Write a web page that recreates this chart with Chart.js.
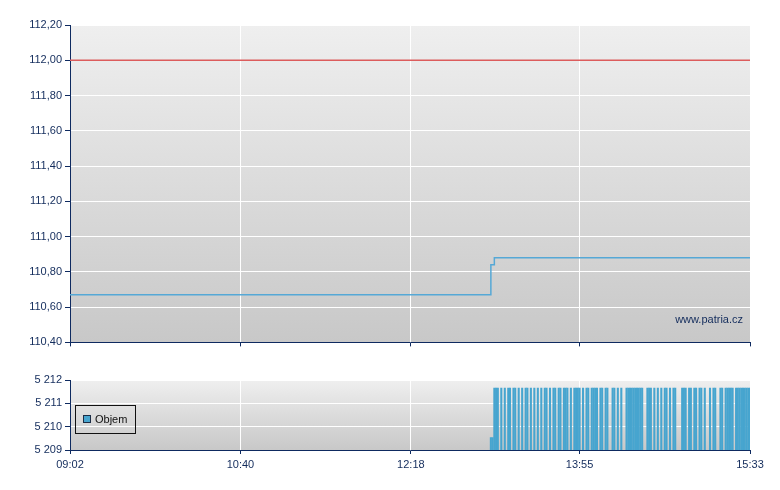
<!DOCTYPE html>
<html><head><meta charset="utf-8">
<script src="https://cdn.jsdelivr.net/npm/chart.js@4.4.0/dist/chart.umd.min.js"></script>
<style>
html,body{margin:0;padding:0;background:#fff;}
#wrap{position:relative;width:780px;height:490px;overflow:hidden;background:#fff;}
canvas{position:absolute;left:0;}
#c1{top:0;}
#c2{top:360px;}
</style></head><body>
<div id="wrap"><canvas id="c1" width="780" height="352"></canvas><canvas id="c2" width="780" height="130"></canvas></div>
<script>
// ---- data ----
const timeTicks = ['09:02', '10:40', '12:18', '13:55', '15:33'];
const priceTicks = [110.40, 110.60, 110.80, 111.00, 111.20, 111.40, 111.60, 111.80, 112.00, 112.20];
const volumeTicks = [5209, 5210, 5211, 5212];

const priceTimes = ['09:02', '13:04', '13:06', '15:33'];
const priceValues = [110.67, 110.84, 110.88, 110.88];

const refTimes = ['09:02', '15:33'];
const refValues = [112.00, 112.00];

const volumeTimes = [
  '13:04','13:05',
  '13:06','13:07','13:08','13:10','13:12','13:14','13:15','13:17','13:18','13:20',
  '13:22','13:24','13:25','13:27','13:29','13:31','13:33','13:35','13:36','13:38',
  '13:40','13:41','13:43','13:44','13:46','13:47','13:48','13:50','13:52','13:53',
  '13:54','13:55','13:57','13:59','14:00','14:02','14:03','14:04','14:05','14:07',
  '14:08','14:10','14:11','14:14','14:15','14:17','14:19','14:22','14:23','14:24',
  '14:25','14:26','14:27','14:28','14:29','14:30','14:31','14:34','14:35','14:36',
  '14:38','14:40','14:42','14:44','14:45','14:47','14:49','14:50','14:54','14:55',
  '14:56','14:58','14:59','15:01','15:02','15:04','15:05','15:07','15:10','15:12',
  '15:13','15:16','15:17','15:19','15:20','15:21','15:22','15:23','15:25','15:26',
  '15:27','15:28','15:29','15:30','15:31','15:32','15:33'
];
const volumeValues = [
  5209.55, 5209.55,
  5211.67, 5211.67, 5211.67, 5211.67, 5211.67, 5211.67, 5211.67, 5211.67, 5211.67, 5211.67,
  5211.67, 5211.67, 5211.67, 5211.67, 5211.67, 5211.67, 5211.67, 5211.67, 5211.67, 5211.67,
  5211.67, 5211.67, 5211.67, 5211.67, 5211.67, 5211.67, 5211.67, 5211.67, 5211.67, 5211.67,
  5211.67, 5211.67, 5211.67, 5211.67, 5211.67, 5211.67, 5211.67, 5211.67, 5211.67, 5211.67,
  5211.67, 5211.67, 5211.67, 5211.67, 5211.67, 5211.67, 5211.67, 5211.67, 5211.67, 5211.67,
  5211.67, 5211.67, 5211.67, 5211.67, 5211.67, 5211.67, 5211.67, 5211.67, 5211.67, 5211.67,
  5211.67, 5211.67, 5211.67, 5211.67, 5211.67, 5211.67, 5211.67, 5211.67, 5211.67, 5211.67,
  5211.67, 5211.67, 5211.67, 5211.67, 5211.67, 5211.67, 5211.67, 5211.67, 5211.67, 5211.67,
  5211.67, 5211.67, 5211.67, 5211.67, 5211.67, 5211.67, 5211.67, 5211.67, 5211.67, 5211.67,
  5211.67, 5211.67, 5211.67, 5211.67, 5211.67, 5211.67, 5211.67
];

// ---- helpers ----
const START = 9 * 60 + 2;
function toMin(t) { const p = t.split(':').map(Number); return p[0] * 60 + p[1] - START; }
const X_MAX = toMin(timeTicks[timeTicks.length - 1]);

const NAVY = '#0e2a60';
const TEXT = '#132c5c';
Chart.defaults.font.family = '"Liberation Sans", Arial, sans-serif';
Chart.defaults.font.size = 11;
Chart.defaults.color = TEXT;

const bgPlugin = {
  id: 'panelBg',
  beforeDraw(chart) {
    const a = chart.chartArea, ctx = chart.ctx;
    const g = ctx.createLinearGradient(0, a.top, 0, a.bottom);
    g.addColorStop(0, '#efefef');
    g.addColorStop(1, '#c8c8c8');
    ctx.save();
    ctx.fillStyle = g;
    ctx.fillRect(a.left, a.top, a.right - a.left, a.bottom - a.top);
    ctx.restore();
  }
};

function xScale(showLabels, height) {
  return {
    type: 'linear', min: 0, max: X_MAX, offset: false,
    afterBuildTicks(s) { s.ticks = timeTicks.map(t => ({ value: toMin(t) })); },
    afterFit(s) { s.height = height; },
    grid: { offset: false, color: '#ffffff', lineWidth: 1, tickColor: NAVY, tickLength: 4, drawTicks: true },
    border: { color: NAVY, width: 1 },
    ticks: {
      display: showLabels, autoSkip: false, maxRotation: 0, padding: 4, color: TEXT,
      callback(v) { const i = timeTicks.findIndex(t => toMin(t) === v); return i >= 0 ? timeTicks[i] : ''; }
    }
  };
}

// ---- price chart ----
new Chart(document.getElementById('c1'), {
  type: 'line',
  data: {
    datasets: [
      {
        label: 'Kurz',
        data: priceTimes.map((t, i) => ({ x: toMin(t), y: priceValues[i] })),
        borderColor: '#55a8d6', borderWidth: 1.5, pointRadius: 0, stepped: true, fill: false
      },
      {
        label: 'Ref',
        data: refTimes.map((t, i) => ({ x: toMin(t), y: refValues[i] })),
        borderColor: '#dc5c5c', borderWidth: 1.5, pointRadius: 0, fill: false
      }
    ]
  },
  options: {
    responsive: false, animation: false, devicePixelRatio: 1,
    layout: { padding: { top: 25, right: 30, left: 0, bottom: 0 } },
    plugins: { legend: { display: false }, tooltip: { enabled: false } },
    scales: {
      x: xScale(false, 7),
      y: {
        min: priceTicks[0], max: priceTicks[priceTicks.length - 1],
        afterBuildTicks(s) { s.ticks = priceTicks.map(v => ({ value: v })); },
        afterFit(s) { s.width = 70; },
        grid: { color: '#ffffff', lineWidth: 1, tickColor: NAVY, tickLength: 5 },
        border: { color: NAVY, width: 1 },
        ticks: { padding: 3, color: TEXT, callback(v) { return Number(v).toFixed(2).replace('.', ','); } }
      }
    }
  },
  plugins: [bgPlugin, {
    id: 'watermark',
    afterDraw(chart) {
      const ctx = chart.ctx;
      ctx.save();
      ctx.font = '11px "Liberation Sans", Arial, sans-serif';
      ctx.fillStyle = TEXT;
      ctx.textAlign = 'right';
      ctx.textBaseline = 'middle';
      ctx.fillText('www.patria.cz', chart.chartArea.right - 7, chart.chartArea.bottom - 22);
      ctx.restore();
    }
  }]
});

// ---- volume chart ----
new Chart(document.getElementById('c2'), {
  type: 'bar',
  data: {
    datasets: [{
      label: 'Objem',
      data: volumeTimes.map((t, i) => ({ x: toMin(t), y: volumeValues[i] })),
      backgroundColor: '#47a5cf', borderWidth: 0,
      barPercentage: 1.2, categoryPercentage: 1
    }]
  },
  options: {
    responsive: false, animation: false, devicePixelRatio: 1,
    layout: { padding: { top: 20, right: 30, left: 0, bottom: 0 } },
    plugins: { legend: { display: false }, tooltip: { enabled: false } },
    scales: {
      x: xScale(true, 40),
      y: {
        min: volumeTicks[0], max: volumeTicks[volumeTicks.length - 1],
        afterBuildTicks(s) { s.ticks = volumeTicks.map(v => ({ value: v })); },
        afterFit(s) { s.width = 70; },
        grid: { color: '#ffffff', lineWidth: 1, tickColor: NAVY, tickLength: 5 },
        border: { color: NAVY, width: 1 },
        ticks: { padding: 3, color: TEXT, callback(v) { return String(v).replace(/(\d)(\d{3})$/, '$1 $2'); } }
      }
    }
  },
  plugins: [bgPlugin, {
    id: 'boxLegend',
    afterDraw(chart) {
      const ctx = chart.ctx, a = chart.chartArea;
      const x = a.left + 5.5, y = a.top + 25.5;
      ctx.save();
      ctx.strokeStyle = '#111111';
      ctx.lineWidth = 1;
      ctx.strokeRect(x, y, 60, 28);
      ctx.fillStyle = '#47a5cf';
      ctx.fillRect(x + 8, y + 10, 7, 7);
      ctx.strokeStyle = '#1c2c44';
      ctx.strokeRect(x + 8, y + 10, 7, 7);
      ctx.font = '11px "Liberation Sans", Arial, sans-serif';
      ctx.fillStyle = '#111111';
      ctx.textAlign = 'left';
      ctx.textBaseline = 'middle';
      ctx.fillText(chart.data.datasets[0].label, x + 19.5, y + 14.5);
      ctx.restore();
    }
  }]
});
</script>
</body></html>
